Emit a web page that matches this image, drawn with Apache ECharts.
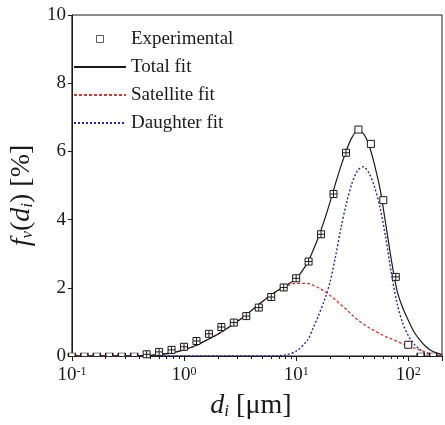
<!DOCTYPE html>
<html>
<head>
<meta charset="utf-8">
<style>
  html, body { margin: 0; padding: 0; background: #fff; }
  #chart { width: 445px; height: 425px; }
</style>
<script src="https://cdn.jsdelivr.net/npm/echarts@6/dist/echarts.min.js"></script>
</head>
<body>
<div id="chart"></div>
<script>
// experimental size distribution, d in µm, fv in %
const expD = [0.1, 0.1292, 0.1668, 0.2154, 0.2783, 0.3594, 0.4642, 0.5995, 0.7743, 1.0,
  1.2915, 1.6681, 2.1544, 2.7826, 3.5938, 4.6416, 5.9948, 7.7426, 10, 12.915,
  16.681, 21.544, 27.826, 35.938, 46.416, 59.948, 77.426, 100, 129.15, 166.81]
const expF = [0, 0, 0, 0, 0, 0, 0.05, 0.12, 0.18, 0.27,
  0.44, 0.65, 0.85, 0.98, 1.17, 1.42, 1.73, 2.01, 2.28, 2.77,
  3.57, 4.75, 5.96, 6.64, 6.22, 4.57, 2.32, 0.33, 0, 0]
// points drawn without error bars
const openPoints = [23, 24, 25, 27]

// fitted curves
const fitD = [0.1, 0.316, 0.398, 0.501, 0.631, 0.794, 1, 1.26, 1.58, 2.0,
  2.51, 3.16, 3.98, 5.01, 6.31, 7.94, 10, 12.6, 14.1, 15.8,
  17.8, 20.0, 22.4, 25.1, 28.2, 31.6, 35.5, 39.8, 44.7, 50.1,
  56.2, 63.1, 70.8, 79.4, 89.1, 100, 112, 126, 141, 158, 178, 200]
const totalFit = [0, 0, 0.005, 0.02, 0.05, 0.1, 0.18, 0.3, 0.46, 0.64,
  0.84, 1.07, 1.33, 1.6, 1.85, 2.05, 2.27, 2.73, 3.08, 3.48,
  3.97, 4.5, 5.05, 5.57, 6.05, 6.42, 6.62, 6.52, 6.18, 5.6,
  4.88, 3.85, 2.8, 1.92, 1.42, 1.05, 0.72, 0.48, 0.3, 0.17, 0.09, 0.04]
const satelliteFit = [0, 0, 0.005, 0.02, 0.05, 0.1, 0.18, 0.3, 0.46, 0.64,
  0.84, 1.07, 1.33, 1.6, 1.84, 2.03, 2.13, 2.13, 2.08, 2.0,
  1.9, 1.78, 1.65, 1.5, 1.36, 1.2, 1.06, 0.94, 0.83, 0.74,
  0.65, 0.57, 0.5, 0.43, 0.36, 0.3, 0.24, 0.18, 0.12, 0.07, 0.03, 0.01]
const daughterFit = [0, 0, 0, 0, 0, 0, 0, 0, 0, 0,
  0, 0, 0, 0, 0, 0.03, 0.14, 0.46, 0.8, 1.18,
  1.62, 2.15, 2.9, 3.75, 4.5, 5.08, 5.45, 5.55, 5.36, 4.95,
  4.33, 3.45, 2.42, 1.55, 0.97, 0.6, 0.36, 0.2, 0.1, 0.04, 0.01, 0]

const yTicks = [0, 2, 4, 6, 8, 10]
const decades = [0.1, 1, 10, 100]

const serif = 'Liberation Serif, Times New Roman, serif'
const ink = '#1a1a1a'

const crossBox = 'path://M0,0H8V8H0Z M4,0V8 M0,4H8'
const halfBox = 'path://M0,5V0H8V5'
const plainBox = 'path://M0,0H8V8H0Z'
const hidden = { color: 'rgba(0,0,0,0)', borderColor: 'rgba(0,0,0,0)', borderWidth: 0 }

const minorTicks = []
decades.forEach(d => {
  for (let m = 2; m <= 9; m++) {
    if (d * m <= 200) minorTicks.push(Math.log10(d * m))
  }
})

const pairs = (xs, ys) => xs.map((x, i) => [x, ys[i]])

const expData = expD.map((d, i) => {
  const item = { value: [d, expF[i]] }
  if (expF[i] === 0) {
    item.symbol = halfBox
    item.symbolSize = [7, 3]
    item.symbolOffset = [0, -1.5]
  } else if (openPoints.includes(i)) {
    item.symbol = 'rect'
  }
  return item
})

const chart = echarts.init(document.getElementById('chart'))
chart.setOption({
  animation: false,
  grid: {
    left: 67, right: -2, top: 15, bottom: 68,
    show: true, borderColor: ink, borderWidth: 1,
  },
  legend: {
    orient: 'vertical',
    left: 73, top: 29,
    padding: 0,
    itemWidth: 52, itemHeight: 7, itemGap: 8,
    selectedMode: false,
    textStyle: { fontFamily: serif, fontSize: 19, color: ink, lineHeight: 20 },
    data: [
      { name: 'Experimental', icon: plainBox, itemStyle: { color: '#fff', borderColor: '#333', borderWidth: 0.8 } },
      { name: 'Total fit', itemStyle: hidden },
      { name: 'Satellite fit', itemStyle: hidden },
      { name: 'Daughter fit', itemStyle: hidden },
    ],
  },
  xAxis: [
    {
      type: 'log', logBase: 10, min: 0.1, max: 200, position: 'bottom',
      axisLine: { onZero: false, lineStyle: { color: ink, width: 1 } },
      axisTick: { length: 5, lineStyle: { color: ink } },
      splitLine: { show: false },
      axisLabel: {
        margin: 10, fontFamily: serif, fontSize: 19, color: ink,
        formatter: v => {
          const e = Math.log10(v)
          if (Math.abs(e - Math.round(e)) > 1e-6) return ''
          return '10{sup|' + Math.round(e) + '}'
        },
        rich: { sup: { fontFamily: serif, fontSize: 12, color: ink, verticalAlign: 'top' } },
      },
      name: '{it|d}{sub|i} [μm]',
      nameLocation: 'middle', nameGap: 36,
      nameTextStyle: {
        fontFamily: serif, fontSize: 28, color: ink, padding: [0, 12, 0, 0],
        rich: {
          it: { fontFamily: serif, fontSize: 28, fontStyle: 'italic', color: ink },
          sub: { fontFamily: serif, fontSize: 17, fontStyle: 'italic', color: ink, verticalAlign: 'bottom' },
        },
      },
    },
    {
      type: 'value', min: -1, max: Math.log10(200), position: 'bottom',
      axisLine: { show: false, onZero: false },
      axisLabel: { show: false },
      splitLine: { show: false },
      axisTick: { show: true, length: 3, customValues: minorTicks, lineStyle: { color: ink } },
    },
  ],
  yAxis: {
    type: 'value', min: yTicks[0], max: yTicks[yTicks.length - 1], interval: 2,
    axisLine: { show: true, onZero: false, lineStyle: { color: ink, width: 1 } },
    axisTick: { show: true, length: 4, lineStyle: { color: ink } },
    splitLine: { show: false },
    axisLabel: { margin: 6, fontFamily: serif, fontSize: 19, color: ink },
    name: '{it|f}{sub|v}({it|d}{sub|i}) [%]',
    nameLocation: 'middle', nameGap: 32,
    nameTextStyle: {
      fontFamily: serif, fontSize: 28, color: ink, padding: [0, 20, 0, 0],
      rich: {
        it: { fontFamily: serif, fontSize: 28, fontStyle: 'italic', color: ink },
        sub: { fontFamily: serif, fontSize: 17, fontStyle: 'italic', color: ink, verticalAlign: 'bottom' },
      },
    },
  },
  series: [
    {
      name: 'Daughter fit', type: 'line', symbol: 'none', smooth: 0.3,
      lineStyle: { color: '#262b8c', width: 1.4, type: [2, 2] },
      itemStyle: { color: '#262b8c' },
      data: pairs(fitD, daughterFit),
    },
    {
      name: 'Satellite fit', type: 'line', symbol: 'none', smooth: 0.3,
      lineStyle: { color: '#cc3b3b', width: 1.3, type: [3, 2] },
      itemStyle: { color: '#cc3b3b' },
      data: pairs(fitD, satelliteFit),
    },
    {
      name: 'Total fit', type: 'line', symbol: 'none', smooth: 0.3,
      lineStyle: { color: ink, width: 1.2 },
      itemStyle: { color: ink },
      data: pairs(fitD, totalFit),
    },
    {
      name: 'Experimental', type: 'scatter',
      symbol: crossBox, symbolSize: 7,
      itemStyle: { color: '#fff', borderColor: ink, borderWidth: 1, opacity: 1 },
      data: expData,
      z: 5,
    },
  ],
})
</script>
</body>
</html>
